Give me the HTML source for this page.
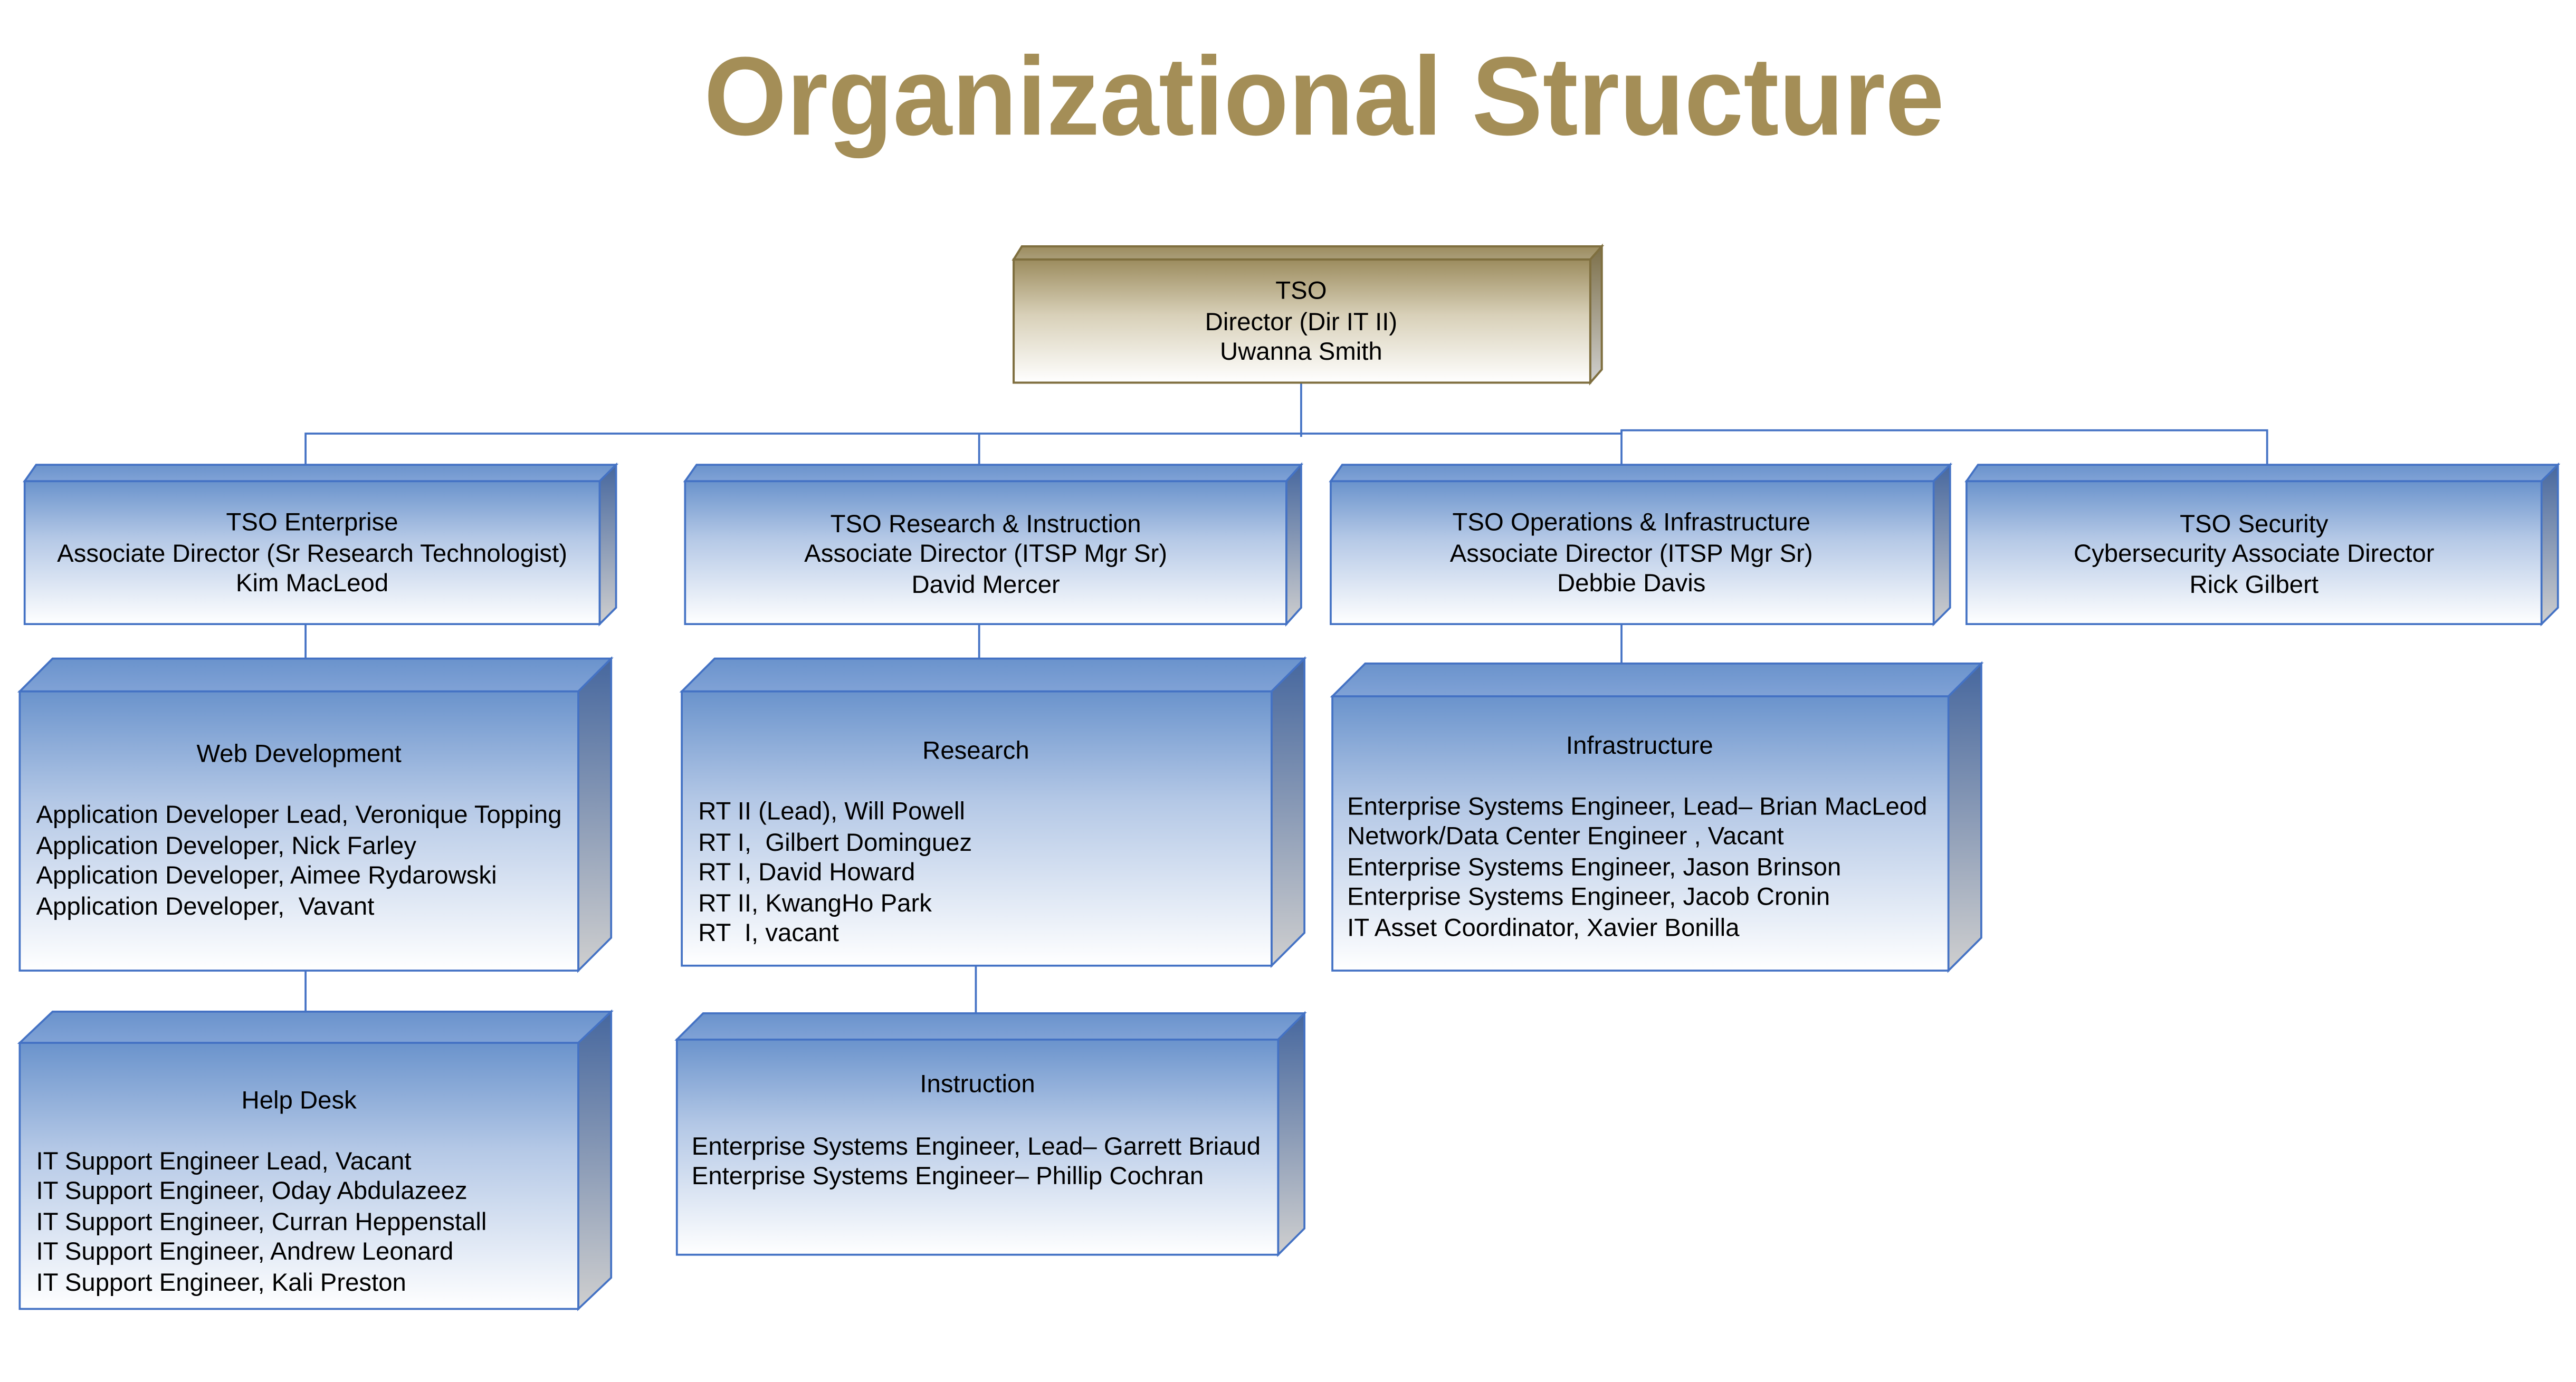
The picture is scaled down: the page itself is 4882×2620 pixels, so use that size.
<!DOCTYPE html>
<html><head><meta charset="utf-8"><style>
html,body{margin:0;padding:0;background:#fff;}
svg{display:block;}
text{font-family:"Liberation Sans",Arial,sans-serif;fill:#000;}
</style></head><body>
<svg width="4882" height="2620" viewBox="0 0 1568 841.5" preserveAspectRatio="none" xmlns="http://www.w3.org/2000/svg">
<defs>
<linearGradient id="gold" x1="0" y1="0" x2="0" y2="1"><stop offset="0" stop-color="#9c8c5e"/><stop offset="0.45" stop-color="#d8d0b8"/><stop offset="1" stop-color="#fff"/></linearGradient>
<linearGradient id="goldTop" x1="0" y1="0" x2="0" y2="1"><stop offset="0" stop-color="#9c8c5e"/><stop offset="1" stop-color="#aa9e7a"/></linearGradient>
<linearGradient id="goldSide" x1="0" y1="0" x2="0" y2="1"><stop offset="0" stop-color="#7c6f48"/><stop offset="1" stop-color="#d0d0d0"/></linearGradient>
<linearGradient id="blue" x1="0" y1="0" x2="0" y2="1"><stop offset="0" stop-color="#6a93cc"/><stop offset="0.4" stop-color="#b4c8e6"/><stop offset="1" stop-color="#fff"/></linearGradient>
<linearGradient id="blueTop" x1="0" y1="0" x2="0" y2="1"><stop offset="0" stop-color="#6a93cc"/><stop offset="1" stop-color="#80a2d6"/></linearGradient>
<linearGradient id="blueSide" x1="0" y1="0" x2="0" y2="1"><stop offset="0" stop-color="#46679e"/><stop offset="1" stop-color="#cfcfcf"/></linearGradient>
</defs>

<text x="806" y="82" font-size="68" font-weight="bold" text-anchor="middle" style="fill:#a48e57" textLength="755" lengthAdjust="spacingAndGlyphs">Organizational Structure</text>

<g stroke="#4472c4" stroke-width="1.2" fill="none">
<line x1="792" y1="233" x2="792" y2="266"/>
<polyline points="186,283 186,264 987,264"/>
<polyline points="987,264 987,262 1380,262 1380,283"/>
<line x1="596" y1="264" x2="596" y2="283"/>
<line x1="987" y1="262" x2="987" y2="283"/>
<line x1="186" y1="380" x2="186" y2="401"/>
<line x1="596" y1="380" x2="596" y2="401"/>
<line x1="987" y1="380" x2="987" y2="404"/>
<line x1="186" y1="591" x2="186" y2="616"/>
<line x1="594" y1="588" x2="594" y2="617"/>
</g>

<g stroke="#7f6f3f" stroke-width="1.3">
<polygon points="617,158 622,150 975,150 968,158" fill="url(#goldTop)"/>
<polygon points="968,158 975,150 975,225 968,233" fill="url(#goldSide)"/>
<rect x="617" y="158" width="351" height="75" fill="url(#gold)"/>
</g>
<text x="792" y="182" font-size="15.2" text-anchor="middle">TSO</text>
<text x="792" y="201" font-size="15.2" text-anchor="middle">Director (Dir IT II)</text>
<text x="792" y="219" font-size="15.2" text-anchor="middle">Uwanna Smith</text>

<g stroke="#4472c4" stroke-width="1.2">
<polygon points="15,293 22,283 375,283 365,293" fill="url(#blueTop)"/>
<polygon points="365,293 375,283 375,370 365,380" fill="url(#blueSide)"/>
<rect x="15" y="293" width="350" height="87" fill="url(#blue)"/>

<polygon points="417,293 424,283 792,283 783,293" fill="url(#blueTop)"/>
<polygon points="783,293 792,283 792,370 783,380" fill="url(#blueSide)"/>
<rect x="417" y="293" width="366" height="87" fill="url(#blue)"/>

<polygon points="810,293 817,283 1187,283 1177,293" fill="url(#blueTop)"/>
<polygon points="1177,293 1187,283 1187,370 1177,380" fill="url(#blueSide)"/>
<rect x="810" y="293" width="367" height="87" fill="url(#blue)"/>

<polygon points="1197,293 1204,283 1557,283 1547,293" fill="url(#blueTop)"/>
<polygon points="1547,293 1557,283 1557,370 1547,380" fill="url(#blueSide)"/>
<rect x="1197" y="293" width="350" height="87" fill="url(#blue)"/>

<polygon points="12,421 32,401 372,401 352,421" fill="url(#blueTop)"/>
<polygon points="352,421 372,401 372,571 352,591" fill="url(#blueSide)"/>
<rect x="12" y="421" width="340" height="170" fill="url(#blue)"/>

<polygon points="415,421 435,401 794,401 774,421" fill="url(#blueTop)"/>
<polygon points="774,421 794,401 794,568 774,588" fill="url(#blueSide)"/>
<rect x="415" y="421" width="359" height="167" fill="url(#blue)"/>

<polygon points="811,424 831,404 1206,404 1186,424" fill="url(#blueTop)"/>
<polygon points="1186,424 1206,404 1206,571 1186,591" fill="url(#blueSide)"/>
<rect x="811" y="424" width="375" height="167" fill="url(#blue)"/>

<polygon points="12,635 32,616 372,616 352,635" fill="url(#blueTop)"/>
<polygon points="352,635 372,616 372,778 352,797" fill="url(#blueSide)"/>
<rect x="12" y="635" width="340" height="162" fill="url(#blue)"/>

<polygon points="412,633 428,617 794,617 778,633" fill="url(#blueTop)"/>
<polygon points="778,633 794,617 794,748 778,764" fill="url(#blueSide)"/>
<rect x="412" y="633" width="366" height="131" fill="url(#blue)"/>
</g>

<g font-size="15.2" text-anchor="middle">
<text x="190" y="323">TSO Enterprise</text>
<text x="190" y="342">Associate Director (Sr Research Technologist)</text>
<text x="190" y="360">Kim MacLeod</text>
<text x="600" y="324">TSO Research &amp; Instruction</text>
<text x="600" y="342">Associate Director (ITSP Mgr Sr)</text>
<text x="600" y="361">David Mercer</text>
<text x="993" y="323">TSO Operations &amp; Infrastructure</text>
<text x="993" y="342">Associate Director (ITSP Mgr Sr)</text>
<text x="993" y="360">Debbie Davis</text>
<text x="1372" y="324">TSO Security</text>
<text x="1372" y="342">Cybersecurity Associate Director</text>
<text x="1372" y="361">Rick Gilbert</text>
<text x="182" y="464">Web Development</text>
<text x="594" y="462">Research</text>
<text x="998" y="459">Infrastructure</text>
<text x="182" y="675">Help Desk</text>
<text x="595" y="665">Instruction</text>
</g>

<g font-size="15.2">
<text x="22" y="501">Application Developer Lead, Veronique Topping</text>
<text x="22" y="520">Application Developer, Nick Farley</text>
<text x="22" y="538">Application Developer, Aimee Rydarowski</text>
<text x="22" y="557" xml:space="preserve">Application Developer,  Vavant</text>

<text x="425" y="499">RT II (Lead), Will Powell</text>
<text x="425" y="518" xml:space="preserve">RT I,  Gilbert Dominguez</text>
<text x="425" y="536">RT I, David Howard</text>
<text x="425" y="555">RT II, KwangHo Park</text>
<text x="425" y="573" xml:space="preserve">RT  I, vacant</text>

<text x="820" y="496">Enterprise Systems Engineer, Lead– Brian MacLeod</text>
<text x="820" y="514">Network/Data Center Engineer , Vacant</text>
<text x="820" y="533">Enterprise Systems Engineer, Jason Brinson</text>
<text x="820" y="551">Enterprise Systems Engineer, Jacob Cronin</text>
<text x="820" y="570">IT Asset Coordinator, Xavier Bonilla</text>

<text x="22" y="712">IT Support Engineer Lead, Vacant</text>
<text x="22" y="730">IT Support Engineer, Oday Abdulazeez</text>
<text x="22" y="749">IT Support Engineer, Curran Heppenstall</text>
<text x="22" y="767">IT Support Engineer, Andrew Leonard</text>
<text x="22" y="786">IT Support Engineer, Kali Preston</text>

<text x="421" y="703">Enterprise Systems Engineer, Lead– Garrett Briaud</text>
<text x="421" y="721">Enterprise Systems Engineer– Phillip Cochran</text>
</g>
</svg>
</body></html>
